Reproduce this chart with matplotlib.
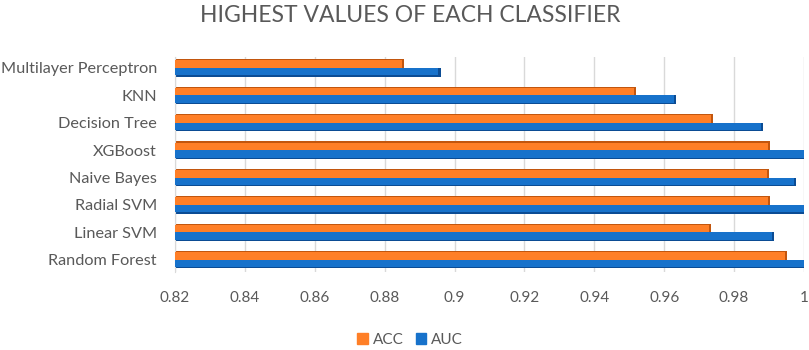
import numpy as np
import matplotlib
matplotlib.use("Agg")
import matplotlib.pyplot as plt
from matplotlib.patches import Patch

plt.rcParams['font.family'] = ['Lato', 'DejaVu Sans']

classifiers = ["Random Forest", "Linear SVM", "Radial SVM", "Naive Bayes",
               "XGBoost", "Decision Tree", "KNN", "Multilayer Perceptron"]
acc = [0.9946, 0.9729, 0.9896, 0.9895, 0.9898, 0.9733, 0.9513, 0.8849]
auc = [0.9999, 0.9909, 0.9999, 0.9972, 0.9999, 0.9876, 0.9629, 0.8954]
xticks = [0.82, 0.84, 0.86, 0.88, 0.9, 0.92, 0.94, 0.96, 0.98, 1.0]
xticklabels = ["0.82", "0.84", "0.86", "0.88", "0.9", "0.92", "0.94", "0.96", "0.98", "1"]

c_acc, c_acc_dark = "#FF7F27", "#C2560E"
c_auc, c_auc_dark = "#1772CB", "#0B4C94"

fig = plt.figure(figsize=(8.09, 3.5), dpi=100)
ax = fig.add_axes([175/809, 78/350, 629/809, 215/350])

y = np.arange(len(classifiers))
h = 0.32
base = 0.82
cap = 0.0006
inner = h * 0.86
# darker copies behind the bars give the thin 3d edge
ax.barh(y + h/2, np.array(acc) - base + cap, left=base, height=h, color=c_acc_dark, zorder=2)
ax.barh(y - h/2, np.array(auc) - base + cap, left=base, height=h, color=c_auc_dark, zorder=2)
ax.barh(y + h/2 - (h - inner)/2, np.array(acc) - base, left=base, height=inner, color=c_acc, zorder=3)
ax.barh(y - h/2 + (h - inner)/2, np.array(auc) - base, left=base, height=inner, color=c_auc, zorder=3)

ax.set_xlim(0.82, 1.0)
ax.set_ylim(-0.45, 7.4)
ax.set_xticks(xticks)
ax.set_xticklabels(xticklabels)
ax.set_yticks(y)
ax.set_yticklabels(classifiers)
ax.tick_params(axis="both", length=0, colors="#595959")
ax.tick_params(axis="x", pad=14, labelsize=11)
ax.tick_params(axis="y", pad=13, labelsize=11.7)
ax.grid(axis="x", color="#D9D9D9", lw=1, zorder=0)
for s in ["top", "right", "bottom"]:
    ax.spines[s].set_visible(False)
ax.spines["left"].set_color("#D9D9D9")

fig.text(410/809, 1 - 15/350, "HIGHEST VALUES OF EACH CLASSIFIER", ha="center", va="center",
         fontsize=16.5, color="#595959")

handles = [Patch(color=c_acc, label="ACC"), Patch(color=c_auc, label="AUC")]
fig.legend(handles=handles, loc="center", bbox_to_anchor=(410/809, 1 - 340/350), ncol=2,
           frameon=False, fontsize=11, handlelength=0.7, handleheight=0.7,
           handletextpad=0.3, columnspacing=0.8, labelcolor="#595959")

fig.savefig("out.png", dpi=100)
